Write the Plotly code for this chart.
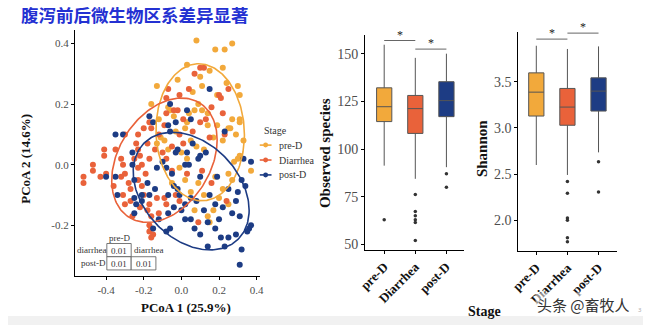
import numpy as np
import plotly.graph_objects as go

W, H = 647, 327
SERIF = "Liberation Serif"

# ---------------- data ----------------
stages = ["pre-D", "Diarrhea", "post-D"]
stage_colors = ["#F2A93B", "#E9623A", "#1D3C84"]

pre_x = [0.08, 0.18, 0.23, 0.27, 0.22, 0.03, 0.10, 0.15,
         -0.02, 0.11, 0.30, 0.31, 0.19, 0.24, 0.06,
         -0.07, -0.06, -0.04, 0.04, 0.07, 0.11, 0.14, 0.09,
         0.27, 0.31, 0.31, 0.19, 0.25, 0.26, 0.14, 0.03, 0.02,
         -0.13, -0.16, -0.12, -0.13, -0.11, -0.09, -0.07, 0.05, 0.08,
         -0.03, 0.00, 0.03, 0.12, 0.17, 0.22, 0.29, 0.33,
         -0.01, 0.02, 0.09, 0.27, 0.31, 0.30, 0.37, 0.28, 0.25,
         0.25, 0.17, 0.14, 0.07, 0.22, 0.12, 0.18, 0.05, -0.05, 0.15, 0.20]
pre_y = [0.41, 0.38, 0.38, 0.40, 0.32, 0.33, 0.29, 0.31,
         0.28, 0.26, 0.26, 0.23, 0.23, 0.27, 0.24,
         0.19, 0.18, 0.16, 0.17, 0.18, 0.18, 0.17, 0.20,
         0.15, 0.15, 0.14, 0.13, 0.12, 0.12, 0.13, 0.14, 0.12,
         0.26, 0.20, 0.15, 0.07, 0.09, 0.08, 0.05, 0.08, 0.06,
         0.11, 0.04, 0.02, 0.05, 0.09, 0.08, 0.10, 0.08,
         -0.01, -0.05, -0.06, -0.05, 0.03, 0.02, -0.02, 0.01, -0.03,
         -0.13, -0.15, -0.17, -0.15, -0.08, -0.10, -0.04, -0.09, -0.06, -0.19, -0.11]

dia_x = [-0.47, -0.47, -0.52, -0.52, -0.41, -0.41, -0.40, -0.43,
         -0.32, -0.31, -0.30, -0.32, -0.36, -0.28, -0.27, -0.31, -0.27, -0.30, -0.35,
         -0.23, -0.21, -0.19, -0.23, -0.21, -0.22, -0.17, -0.10, -0.25, -0.20,
         -0.17, -0.16, -0.17, -0.17, -0.15, -0.26, -0.18, -0.16, -0.16, -0.12, -0.13, -0.22,
         -0.08, -0.23, -0.24, -0.18, -0.23, -0.16, -0.30, -0.17, -0.20, -0.12, -0.14, -0.09,
         0.07, 0.10, 0.12, 0.25, -0.07, 0.04, -0.01, 0.20, 0.21, 0.22, 0.13, 0.10, 0.01,
         -0.02, -0.04, -0.08, 0.23, 0.16,
         -0.01, 0.01, -0.05, 0.06, 0.15, -0.08, 0.16, -0.03, -0.01, 0.09, 0.24, -0.08,
         -0.09, 0.03, -0.05, 0.11]
dia_y = [0.00, -0.02, -0.04, -0.06, 0.03, 0.05, -0.03, -0.04,
         0.02, 0.00, -0.03, -0.04, -0.07, -0.06, -0.08, -0.10, -0.12, -0.13, 0.05,
         -0.01, 0.00, -0.03, -0.05, -0.07, 0.03, 0.02, 0.04, 0.02, -0.10,
         -0.13, -0.17, -0.20, -0.22, -0.23, -0.17, -0.15, -0.21, -0.24, -0.16, -0.11, -0.14,
         0.22, 0.10, 0.07, 0.07, 0.05, 0.12, 0.10, 0.14, 0.12, 0.10, 0.05, 0.13,
         0.30, 0.32, 0.32, 0.25, 0.25, 0.25, 0.23, 0.23, 0.22, 0.17, 0.15, 0.14, 0.15,
         0.18, 0.18, 0.17, 0.10, 0.19,
         0.10, 0.07, 0.06, 0.11, 0.09, 0.02, -0.06, -0.10, -0.12, -0.19, -0.12, -0.13,
         -0.11, -0.03, -0.02, -0.02]

post_x = [-0.35, -0.31, -0.17, -0.15, -0.06, 0.15, 0.03, -0.03, 0.05, -0.06, 0.23, -0.02, -0.07, 0.10, 0.06,
          -0.26, -0.40, -0.35, -0.34, -0.25, -0.25, -0.24, -0.21, -0.21, -0.17, -0.15, -0.12, -0.10, -0.13,
          -0.26, -0.25, -0.18, -0.14,
          -0.03, 0.03, 0.09, 0.13, 0.02, 0.04, -0.08, -0.05, 0.10, 0.19, 0.33, 0.37, 0.32, 0.34, 0.30,
          0.29, 0.27, 0.31,
          0.36, 0.37, 0.35, 0.29, 0.25, 0.21, 0.14, 0.23, 0.32, 0.31, 0.10, 0.14, 0.02, -0.06, -0.08,
          -0.07, 0.05, 0.12, 0.18,
          -0.07, -0.01, 0.02, 0.05, -0.02, -0.04, 0.08, 0.15, 0.22, 0.25, 0.07, 0.18, -0.04, 0.00, 0.20]
post_y = [0.10, 0.10, 0.16, 0.14, 0.20, 0.25, 0.18, 0.14, 0.15, 0.11, 0.11, 0.05, 0.13, 0.03, 0.07,
          0.04, -0.04, -0.04, -0.10, -0.05, -0.11, -0.13, -0.10, -0.12, -0.10, -0.21, -0.18, 0.01, -0.01,
          0.00, -0.16, -0.06, -0.08,
          0.04, 0.04, 0.02, 0.04, 0.00, 0.00, -0.01, -0.03, -0.04, -0.04, 0.02, 0.01, -0.05, -0.07, -0.09,
          -0.12, -0.16, -0.17,
          -0.21, -0.20, -0.22, -0.23, -0.24, -0.24, -0.27, -0.27, -0.28, -0.33, -0.23, -0.19, -0.18, -0.21, -0.22,
          -0.16, -0.18, -0.15, -0.13,
          -0.10, -0.10, -0.13, -0.11, -0.08, -0.07, -0.12, -0.10, -0.14, -0.08, -0.21, -0.21, -0.14, -0.15, -0.18]

# confidence ellipses: centre, half extents along x / y, phase between x and y (deg)
ell_cx = [0.100, -0.090, 0.052]
ell_cy = [0.107, 0.015, -0.087]
ell_xh = [0.235, 0.280, 0.308]
ell_yh = [0.226, 0.205, 0.194]
ell_phase = [92, 71, 109]

# pairwise p-values (PERMANOVA)
ptab_rows = ["diarrhea", "post-D"]
ptab_cols = ["pre-D", "diarrhea"]
ptab_vals = [["0.01", None], ["0.01", "0.01"]]

# Observed species boxplot statistics
obs_q1 = [114.4, 108.2, 117.0]
obs_med = [122.2, 121.2, 125.4]
obs_q3 = [132.1, 128.1, 135.3]
obs_lo = [91.3, 84.4, 90.5]
obs_hi = [154.7, 147.8, 150.0]
obs_out = [[63], [76.2, 67.3, 65.0, 63.0, 61.5, 52.1], [87, 80]]
obs_sig = [[1, 2, 156.9], [2, 3, 152.4]]

# Shannon boxplot statistics
sha_q1 = [3.129, 3.029, 3.183]
sha_med = [3.388, 3.226, 3.399]
sha_q3 = [3.597, 3.428, 3.543]
sha_lo = [2.598, 2.49, 2.735]
sha_hi = [3.891, 3.856, 3.884]
sha_out = [[], [2.418, 2.293, 2.024, 1.998, 1.808, 1.765], [2.634, 2.304]]
sha_sig = [[1, 2, 3.963], [2, 3, 4.028]]


def pxx(x):
    return x / W


def pyy(y):
    return 1 - y / H


def label(x, y, text, size, color="#333333", family=SERIF, xanchor="center", **kw):
    """Text placed in pixel units measured from the top-left corner."""
    d = dict(xref="paper", yref="paper", x=pxx(x), y=pyy(y), text=text, showarrow=False,
             xanchor=xanchor, yanchor="middle",
             font=dict(family=family, size=size, color=color))
    d.update(kw)
    return d


fig = go.Figure()

# ---------------- PCoA scatter ----------------
groups = [(pre_x, pre_y), (dia_x, dia_y), (post_x, post_y)]
for i, (gx, gy) in enumerate(groups):
    fig.add_trace(go.Scatter(
        x=gx, y=gy, mode="markers", xaxis="x", yaxis="y", showlegend=False,
        marker=dict(size=6, color=stage_colors[i], line=dict(width=0)),
        name=stages[i]))

t = np.linspace(0, 2 * np.pi, 200)
for i in range(3):
    ph = np.deg2rad(ell_phase[i])
    ex = ell_cx[i] + ell_xh[i] * np.cos(t)
    ey = ell_cy[i] + ell_yh[i] * np.cos(t - ph)
    fig.add_trace(go.Scatter(
        x=ex, y=ey, mode="lines", xaxis="x", yaxis="y", showlegend=False,
        line=dict(color=stage_colors[i], width=1.6), hoverinfo="skip"))

# ---------------- boxplots ----------------
cat_pos = [i + 1 for i in range(len(stages))]


def add_box_panel(xa, ya, q1, med, q3, lo, hi, outs):
    for i in range(3):
        fig.add_trace(go.Box(
            x=[cat_pos[i]], q1=[q1[i]], median=[med[i]], q3=[q3[i]],
            lowerfence=[lo[i]], upperfence=[hi[i]],
            xaxis=xa, yaxis=ya, width=0.49, whiskerwidth=0,
            fillcolor=stage_colors[i], line=dict(color="#555555", width=1),
            boxpoints=False, showlegend=False, name=stages[i]))
        if outs[i]:
            fig.add_trace(go.Scatter(
                x=[cat_pos[i]] * len(outs[i]), y=outs[i], mode="markers",
                xaxis=xa, yaxis=ya, showlegend=False,
                marker=dict(size=3.5, color="#333333")))


add_box_panel("x2", "y2", obs_q1, obs_med, obs_q3, obs_lo, obs_hi, obs_out)
add_box_panel("x3", "y3", sha_q1, sha_med, sha_q3, sha_lo, sha_hi, sha_out)

shapes = []
annotations = []

for sig, xr, yr in [(obs_sig, "x2", "y2"), (sha_sig, "x3", "y3")]:
    for a, b, yv in sig:
        shapes.append(dict(type="line", xref=xr, yref=yr, x0=a, x1=b, y0=yv, y1=yv,
                           line=dict(color="#666666", width=1)))
        annotations.append(dict(xref=xr, yref=yr, x=(a + b) / 2, y=yv, text="*",
                                showarrow=False, xanchor="center", yanchor="bottom", yshift=-3,
                                font=dict(family=SERIF, size=12, color="#222222")))

# ---------------- legend (manual) ----------------
annotations.append(label(259, 131, "Stage", 10, xanchor="left"))
for i, s in enumerate(stages):
    yy = 146 + 15 * i
    shapes.append(dict(type="line", xref="paper", yref="paper",
                       x0=pxx(256.5), x1=pxx(268.5), y0=pyy(yy), y1=pyy(yy),
                       line=dict(color=stage_colors[i], width=1.6)))
    shapes.append(dict(type="circle", xref="paper", yref="paper",
                       x0=pxx(260), x1=pxx(265), y0=pyy(yy + 2.5), y1=pyy(yy - 2.5),
                       fillcolor=stage_colors[i], line=dict(width=0)))
    annotations.append(label(274, yy, s, 10, xanchor="left"))

# ---------------- p-value table ----------------
cell_x = [100.7, 125.5, 150.7]
cell_y = [245.0, 258.3, 271.6]
for r in range(2):
    for c in range(2):
        v = ptab_vals[r][c]
        if v is None:
            continue
        shapes.append(dict(type="rect", xref="paper", yref="paper",
                           x0=pxx(cell_x[c]), x1=pxx(cell_x[c + 1]),
                           y0=pyy(cell_y[r + 1]), y1=pyy(cell_y[r]),
                           fillcolor="white", line=dict(color="#555555", width=0.8)))
        annotations.append(label((cell_x[c] + cell_x[c + 1]) / 2,
                                 (cell_y[r] + cell_y[r + 1]) / 2 + 0.5, v, 9))
for r, lab in enumerate(ptab_rows):
    annotations.append(label(cell_x[0] + 1, (cell_y[r] + cell_y[r + 1]) / 2, lab, 9,
                             xanchor="right"))
annotations.append(label((cell_x[0] + cell_x[1]) / 2, 239.5, ptab_cols[0], 9))
annotations.append(label(cell_x[1] + 0.5, (cell_y[0] + cell_y[1]) / 2, ptab_cols[1], 9,
                         xanchor="left"))

# ---------------- titles / labels ----------------
annotations += [
    label(11, 15, "腹泻前后微生物区系差异显著", 17.5, color="#2431D2",
          family="Noto Sans CJK SC", xanchor="left"),
    label(181, 309, "<b>PCoA 1 (25.9%)</b>", 13, color="#111111"),
    label(17, 160, "<b>PCoA 2 (14.6%)</b>", 13, color="#111111", textangle=-90),
    label(323, 154, "<b>Observed species</b>", 15, color="#111111", textangle=-90),
    label(483, 150, "<b>Shannon</b>", 15, color="#111111", textangle=-90),
    label(486, 313, "<b>Stage</b>", 14, color="#111111"),
    label(586, 306, "头条 @畜牧人", 15, family="Noto Sans CJK SC",
          bgcolor="rgba(255,255,255,0.55)"),
    label(644, 312, "3", 6, color="#aaaaaa", family="Noto Sans"),
]
annotations[-8]["font"]["weight"] = "bold"

shapes.append(dict(type="rect", xref="paper", yref="paper", x0=0, x1=1,
                   y0=0, y1=pyy(318), fillcolor="#f1f1f1", line=dict(width=0), layer="below"))

tick_font = dict(family=SERIF, size=11, color="#4d4d4d")
box_tick_font = dict(family=SERIF, size=14, color="#4d4d4d")
axis_common = dict(showgrid=False, zeroline=False, showline=True, linecolor="black",
                   linewidth=1.2, ticks="outside", ticklen=3, tickcolor="black", tickwidth=1)

cat_ticks = ["<b>%s</b>" % s for s in stages]

fig.update_layout(
    width=W, height=H, margin=dict(l=0, r=0, t=0, b=0),
    paper_bgcolor="white", plot_bgcolor="white", showlegend=False,
    xaxis=dict(domain=[pxx(68.3), pxx(257)], range=[-0.565, 0.419], anchor="y",
               tickvals=[-0.4, -0.2, 0.0, 0.2, 0.4],
               ticktext=["-0.4", "-0.2", "0.0", "0.2", "0.4"], tickfont=tick_font, **axis_common),
    yaxis=dict(domain=[pyy(278), pyy(30)], range=[-0.368, 0.445], anchor="x",
               tickvals=[-0.2, 0.0, 0.2, 0.4],
               ticktext=["-0.2", "0.0", "0.2", "0.4"], tickfont=tick_font, **axis_common),
    xaxis2=dict(domain=[pxx(364), pxx(465)], range=[0.391, 3.577], anchor="y2",
                tickvals=cat_pos, ticktext=cat_ticks, tickangle=-45,
                tickfont=dict(family=SERIF, size=13, color="#111111"), **axis_common),
    yaxis2=dict(domain=[pyy(251.7), pyy(35)], range=[47.0, 159.9], anchor="x2",
                tickvals=[50, 75, 100, 125, 150], tickfont=box_tick_font, **axis_common),
    xaxis3=dict(domain=[pxx(520), pxx(620.7)], range=[0.423, 3.60], anchor="y3",
                tickvals=cat_pos, ticktext=cat_ticks, tickangle=-45,
                tickfont=dict(family=SERIF, size=13, color="#111111"), **axis_common),
    yaxis3=dict(domain=[pyy(252.7), pyy(32.2)], range=[1.664, 4.04], anchor="x3",
                tickvals=[2.0, 2.5, 3.0, 3.5], ticktext=["2.0", "2.5", "3.0", "3.5"],
                tickfont=box_tick_font, **axis_common),
    shapes=shapes, annotations=annotations,
)

fig.write_html("out.html")
